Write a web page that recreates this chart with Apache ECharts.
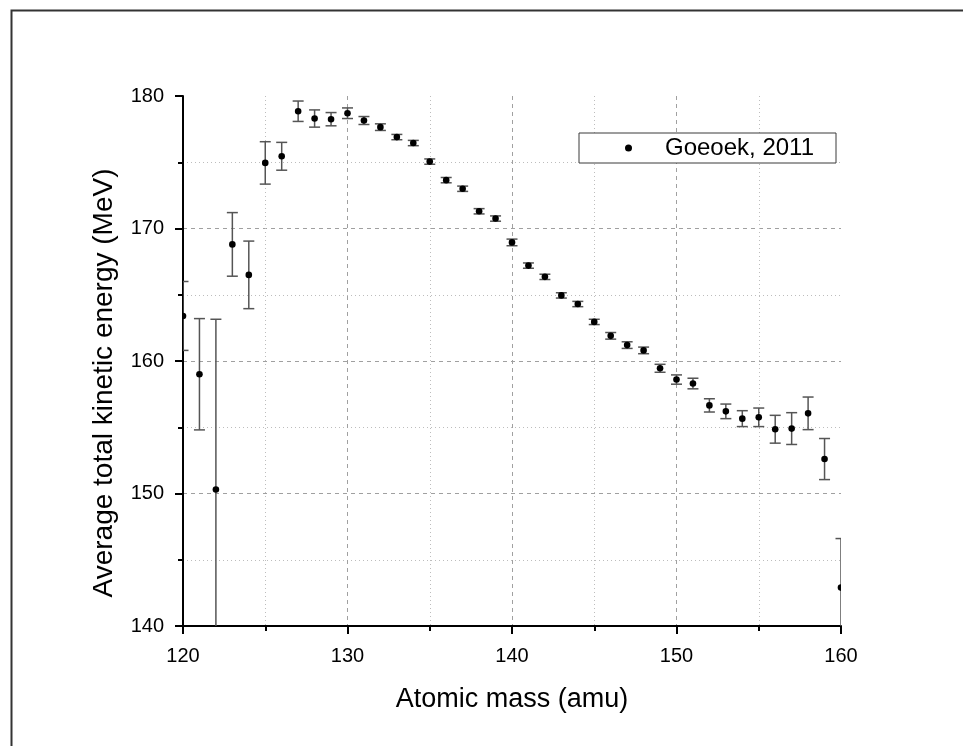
<!DOCTYPE html>
<html><head><meta charset="utf-8">
<script src="https://cdn.jsdelivr.net/npm/echarts@6/dist/echarts.min.js"></script>
<style>html,body{margin:0;padding:0;background:#fff}#c{width:963px;height:746px}</style>
</head><body><div id="c"></div>
<script>
const seriesName = 'Goeoek, 2011';
const xTitle = 'Atomic mass (amu)';
const yTitle = 'Average total kinetic energy (MeV)';
const masses = [120,121,122,123,124,125,126,127,128,129,130,131,132,133,134,135,136,137,138,139,140,141,142,143,144,145,146,147,148,149,150,151,152,153,154,155,156,157,158,159,160];
const tke = [163.4,159.0,150.3,168.8,166.5,174.95,175.45,178.85,178.3,178.25,178.7,178.15,177.65,176.9,176.45,175.05,173.65,173.0,171.3,170.75,168.95,167.2,166.35,164.95,164.3,162.95,161.9,161.2,160.8,159.45,158.6,158.3,156.65,156.2,155.65,155.75,154.85,154.9,156.05,152.6,142.9];
const tkeErr = [2.6,4.2,12.85,2.4,2.55,1.6,1.05,0.77,0.65,0.5,0.4,0.3,0.25,0.2,0.2,0.2,0.2,0.2,0.2,0.2,0.25,0.2,0.2,0.2,0.2,0.2,0.25,0.25,0.25,0.3,0.35,0.4,0.5,0.55,0.6,0.7,1.05,1.2,1.23,1.55,3.7];
const xRange = [120, 160], xStep = 10;
const yRange = [140, 180], yStep = 10;

const FONT = '"Liberation Sans", Arial, sans-serif';
const chart = echarts.init(document.getElementById('c'), null, {renderer: 'canvas'});

function axisCommon() {
  return {
    type: 'value',
    axisLine: {show: true, onZero: false, lineStyle: {color: '#000', width: 2}},
    axisTick: {show: true, inside: false, length: 8, lineStyle: {color: '#000', width: 2}},
    minorTick: {show: true, splitNumber: 2, length: 5, lineStyle: {color: '#000', width: 2}},
    splitLine: {show: true, showMinLine: false, showMaxLine: false, lineStyle: {color: '#a0a0a0', width: 1, type: [4, 4]}},
    minorSplitLine: {show: true, lineStyle: {color: '#bdbdbd', width: 1, type: [1, 3]}},
    axisLabel: {color: '#000', fontSize: 20, fontFamily: FONT},
    nameLocation: 'middle',
    nameTextStyle: {color: '#000', fontFamily: FONT}
  };
}

const xAxis = Object.assign(axisCommon(), {
  min: xRange[0], max: xRange[1], interval: xStep, position: 'bottom',
  name: xTitle, nameGap: 60
});
xAxis.axisLabel = Object.assign({}, xAxis.axisLabel, {margin: 20});
xAxis.nameTextStyle = Object.assign({}, xAxis.nameTextStyle, {fontSize: 27});

const yAxis = Object.assign(axisCommon(), {
  min: yRange[0], max: yRange[1], interval: yStep, position: 'left',
  name: yTitle, nameGap: 65, nameRotate: 90
});
yAxis.axisLabel = Object.assign({}, yAxis.axisLabel, {margin: 19});
yAxis.nameTextStyle = Object.assign({}, yAxis.nameTextStyle, {fontSize: 28, padding: [0, 44, 0, 0]});

const option = {
  backgroundColor: '#fff',
  animation: false,
  textStyle: {fontFamily: FONT},
  grid: {left: 183, top: 96, width: 658, height: 530, containLabel: false},
  xAxis: xAxis,
  yAxis: yAxis,
  legend: {
    show: true, left: 579, top: 133, orient: 'horizontal',
    backgroundColor: '#fff', borderColor: '#3a3a3a', borderWidth: 1, borderRadius: 0,
    padding: [2, 22, 2, 46], itemWidth: 7, itemHeight: 7,
    textStyle: {fontSize: 24, color: '#000', fontFamily: FONT, lineHeight: 26, padding: [0, 0, 0, 28]},
    data: [{name: seriesName, icon: 'circle', itemStyle: {color: '#000'}}]
  },
  graphic: [{
    type: 'rect', left: 9, top: 8, silent: true,
    shape: {width: 1000, height: 800},
    style: {fill: 'none', stroke: '#333', lineWidth: 2}
  }],
  series: [{
    type: 'custom',
    name: seriesName,
    clip: true,
    itemStyle: {color: '#000'},
    encode: {x: 0, y: 1},
    data: masses.map((m, i) => [m, tke[i], tkeErr[i]]),
    renderItem: function (params, api) {
      const x = api.value(0), y = api.value(1), e = api.value(2);
      const c = api.coord([x, y]);
      const t = api.coord([x, y + e]);
      const b = api.coord([x, y - e]);
      const hw = 5.5;
      const ls = {stroke: '#555', lineWidth: 1.5};
      return {
        type: 'group',
        children: [
          {type: 'line', shape: {x1: t[0], y1: t[1], x2: b[0], y2: b[1]}, style: ls},
          {type: 'line', shape: {x1: t[0] - hw, y1: t[1], x2: t[0] + hw, y2: t[1]}, style: ls},
          {type: 'line', shape: {x1: b[0] - hw, y1: b[1], x2: b[0] + hw, y2: b[1]}, style: ls},
          {type: 'circle', shape: {cx: c[0], cy: c[1], r: 3.3}, style: {fill: '#000'}}
        ]
      };
    }
  }]
};
chart.setOption(option);
</script></body></html>
